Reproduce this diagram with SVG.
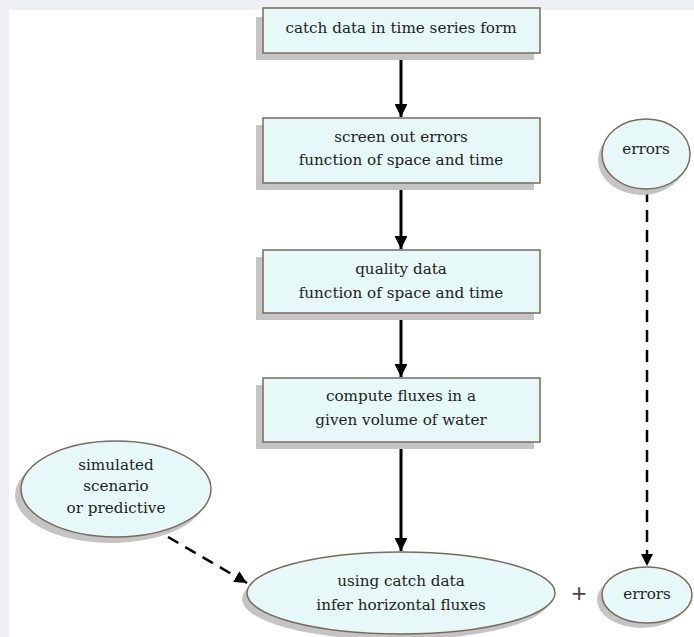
<svg xmlns="http://www.w3.org/2000/svg" width="694" height="637" viewBox="0 0 694 637">
<style>
.bg{fill:#eef0f3}
.box{fill:#e6f9f8;stroke:#7a6a5c;stroke-width:1.5}
.sh{fill:#c4c4c4}
.ell{fill:#e6f9f8;stroke:#7a6a5c;stroke-width:1.5}
.t{font-family:"DejaVu Serif","Liberation Serif",serif;font-size:15.2px;fill:#222;text-anchor:middle}
.solid{stroke:#000;stroke-width:3;fill:none}
.dash{stroke:#000;stroke-width:2.5;fill:none;stroke-dasharray:12 8}
</style>
<defs>
<marker id="ah" viewBox="0 0 10 10" refX="10" refY="5" markerWidth="4.3" markerHeight="4.3" markerUnits="strokeWidth" orient="auto">
<path d="M0,0 L10,5 L0,10 Z" fill="#000"/>
</marker>
<marker id="ah2" viewBox="0 0 10 10" refX="10" refY="5" markerWidth="5" markerHeight="5" markerUnits="strokeWidth" orient="auto">
<path d="M0,0 L10,5 L0,10 Z" fill="#000"/>
</marker>
</defs>
<rect x="0" y="0" width="694" height="637" fill="#fff"/>
<rect class="bg" x="0" y="0" width="694" height="10"/>
<rect class="bg" x="0" y="0" width="9" height="637"/>

<g id="connectors">
<line class="solid" x1="401" y1="53" x2="401" y2="117" marker-end="url(#ah)"/>
<line class="solid" x1="401" y1="183" x2="401" y2="249" marker-end="url(#ah)"/>
<line class="solid" x1="401" y1="313" x2="401" y2="377" marker-end="url(#ah)"/>
<line class="solid" x1="401" y1="442" x2="401" y2="551" marker-end="url(#ah)"/>
<line class="dash" x1="647" y1="190" x2="647" y2="566" marker-end="url(#ah2)"/>
<line class="dash" x1="168" y1="537" x2="247" y2="583" marker-end="url(#ah2)"/>
</g>

<g id="n1">
<rect class="sh" x="256" y="17" width="278" height="43"/>
<rect class="box" x="263" y="8" width="277" height="45" stroke="#555"/>
<text class="t" x="401" y="33">catch data in time series form</text>
</g>
<g id="n2">
<rect class="sh" x="256" y="125" width="278" height="65"/>
<rect class="box" x="263" y="118" width="277" height="65"/>
<text class="t" x="401" y="142">screen out errors</text>
<text class="t" x="401" y="165">function of space and time</text>
</g>
<g id="n3">
<rect class="sh" x="256" y="257" width="278" height="63"/>
<rect class="box" x="263" y="250" width="277" height="63"/>
<text class="t" x="401" y="274">quality data</text>
<text class="t" x="401" y="298">function of space and time</text>
</g>
<g id="n4">
<rect class="sh" x="256" y="385" width="278" height="64"/>
<rect class="box" x="263" y="378" width="277" height="64"/>
<text class="t" x="401" y="401">compute fluxes in a</text>
<text class="t" x="401" y="425">given volume of water</text>
</g>
<g id="n5">
<ellipse class="sh" cx="111" cy="495" rx="96" ry="48"/>
<ellipse class="ell" cx="116" cy="489" rx="95" ry="48"/>
<text class="t" x="116" y="470">simulated</text>
<text class="t" x="116" y="491">scenario</text>
<text class="t" x="116" y="513">or predictive</text>
</g>
<g id="n6">
<ellipse class="sh" cx="396" cy="599" rx="154" ry="41"/>
<ellipse class="ell" cx="401" cy="593" rx="154" ry="41" stroke="#555"/>
<text class="t" x="401" y="586">using catch data</text>
<text class="t" x="401" y="610">infer horizontal fluxes</text>
</g>
<g id="n7">
<ellipse class="sh" cx="642" cy="160" rx="44" ry="35"/>
<ellipse class="ell" cx="646" cy="154" rx="44" ry="35"/>
<text class="t" x="646" y="154">errors</text>
</g>
<g id="n8">
<ellipse class="sh" cx="642" cy="600" rx="45" ry="28"/>
<ellipse class="ell" cx="647" cy="595" rx="45" ry="28"/>
<text class="t" x="647" y="599">errors</text>
</g>
<text class="t" x="579" y="602" style="font-size:26px;fill:#444;font-family:'Liberation Sans',sans-serif;font-weight:300">+</text>
</svg>
